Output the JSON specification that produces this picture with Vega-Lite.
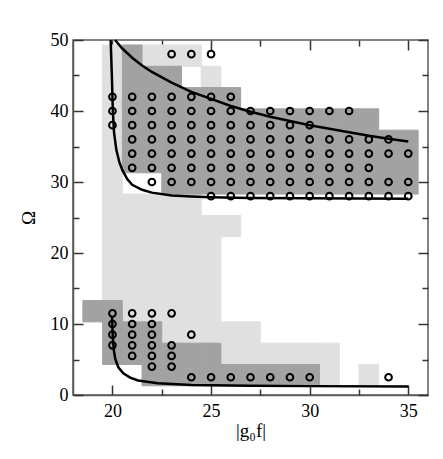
{
  "$schema": "https://vega.github.io/schema/vega-lite/v6.json",
  "width": 355,
  "height": 355,
  "autosize": "none",
  "padding": {"left": 73, "top": 40, "right": 15, "bottom": 64},
  "background": "white",
  "config": {
    "view": {"stroke": "#5a5a5a", "strokeWidth": 1.5},
    "axis": {
      "labelFont": "Liberation Serif",
      "titleFont": "Liberation Serif",
      "labelFontSize": 18,
      "titleFontSize": 19,
      "titleFontWeight": "normal",
      "labelColor": "black",
      "titleColor": "black",
      "domainColor": "#5a5a5a",
      "domainWidth": 1.5,
      "grid": false
    }
  },
  "datasets": {
    "cells": [
      {"g0": 19.5, "g1": 20.5, "lo": 13.3, "hi": 49.3, "shade": "light"},
      {"g0": 20.5, "g1": 21.5, "lo": 10.3, "hi": 28.3, "shade": "light"},
      {"g0": 21.5, "g1": 22.5, "lo": 10.3, "hi": 28.3, "shade": "light"},
      {"g0": 21.5, "g1": 22.5, "lo": 46.3, "hi": 49.3, "shade": "light"},
      {"g0": 22.5, "g1": 23.5, "lo": 7.3, "hi": 28.3, "shade": "light"},
      {"g0": 22.5, "g1": 23.5, "lo": 46.3, "hi": 49.3, "shade": "light"},
      {"g0": 23.5, "g1": 24.5, "lo": 7.3, "hi": 28.3, "shade": "light"},
      {"g0": 23.5, "g1": 24.5, "lo": 46.3, "hi": 49.3, "shade": "light"},
      {"g0": 24.5, "g1": 25.5, "lo": 7.3, "hi": 25.3, "shade": "light"},
      {"g0": 24.5, "g1": 25.5, "lo": 43.3, "hi": 46.3, "shade": "light"},
      {"g0": 25.5, "g1": 26.5, "lo": 22.3, "hi": 25.3, "shade": "light"},
      {"g0": 25.5, "g1": 26.5, "lo": 4.3, "hi": 10.3, "shade": "light"},
      {"g0": 26.5, "g1": 27.5, "lo": 4.3, "hi": 10.3, "shade": "light"},
      {"g0": 27.5, "g1": 28.5, "lo": 4.3, "hi": 7.3, "shade": "light"},
      {"g0": 28.5, "g1": 29.5, "lo": 4.3, "hi": 7.3, "shade": "light"},
      {"g0": 29.5, "g1": 30.5, "lo": 4.3, "hi": 7.3, "shade": "light"},
      {"g0": 30.5, "g1": 31.5, "lo": 1.3, "hi": 7.3, "shade": "light"},
      {"g0": 32.5, "g1": 33.5, "lo": 1.3, "hi": 4.3, "shade": "light"},
      {"g0": 18.5, "g1": 19.5, "lo": 10.3, "hi": 13.3, "shade": "dark"},
      {"g0": 19.5, "g1": 20.5, "lo": 4.3, "hi": 13.3, "shade": "dark"},
      {"g0": 20.5, "g1": 21.5, "lo": 4.3, "hi": 10.3, "shade": "dark"},
      {"g0": 20.5, "g1": 21.5, "lo": 31.3, "hi": 49.3, "shade": "dark"},
      {"g0": 21.5, "g1": 22.5, "lo": 1.3, "hi": 10.3, "shade": "dark"},
      {"g0": 21.5, "g1": 22.5, "lo": 31.3, "hi": 46.3, "shade": "dark"},
      {"g0": 22.5, "g1": 23.5, "lo": 1.3, "hi": 7.3, "shade": "dark"},
      {"g0": 22.5, "g1": 23.5, "lo": 28.3, "hi": 46.3, "shade": "dark"},
      {"g0": 23.5, "g1": 24.5, "lo": 1.3, "hi": 7.3, "shade": "dark"},
      {"g0": 23.5, "g1": 24.5, "lo": 28.3, "hi": 43.3, "shade": "dark"},
      {"g0": 24.5, "g1": 25.5, "lo": 1.3, "hi": 7.3, "shade": "dark"},
      {"g0": 24.5, "g1": 25.5, "lo": 28.3, "hi": 43.3, "shade": "dark"},
      {"g0": 25.5, "g1": 26.5, "lo": 1.3, "hi": 4.3, "shade": "dark"},
      {"g0": 25.5, "g1": 26.5, "lo": 28.3, "hi": 43.3, "shade": "dark"},
      {"g0": 26.5, "g1": 27.5, "lo": 1.3, "hi": 4.3, "shade": "dark"},
      {"g0": 26.5, "g1": 27.5, "lo": 28.3, "hi": 40.3, "shade": "dark"},
      {"g0": 27.5, "g1": 28.5, "lo": 1.3, "hi": 4.3, "shade": "dark"},
      {"g0": 27.5, "g1": 28.5, "lo": 28.3, "hi": 40.3, "shade": "dark"},
      {"g0": 28.5, "g1": 29.5, "lo": 1.3, "hi": 4.3, "shade": "dark"},
      {"g0": 28.5, "g1": 29.5, "lo": 28.3, "hi": 40.3, "shade": "dark"},
      {"g0": 29.5, "g1": 30.5, "lo": 1.3, "hi": 4.3, "shade": "dark"},
      {"g0": 29.5, "g1": 30.5, "lo": 28.3, "hi": 40.3, "shade": "dark"},
      {"g0": 30.5, "g1": 31.5, "lo": 28.3, "hi": 40.3, "shade": "dark"},
      {"g0": 31.5, "g1": 32.5, "lo": 28.3, "hi": 40.3, "shade": "dark"},
      {"g0": 32.5, "g1": 33.5, "lo": 28.3, "hi": 40.3, "shade": "dark"},
      {"g0": 33.5, "g1": 34.5, "lo": 28.3, "hi": 37.3, "shade": "dark"},
      {"g0": 34.5, "g1": 35.5, "lo": 28.3, "hi": 37.3, "shade": "dark"}
    ],
    "pts": [
      {"g": 23, "w": 48}, {"g": 24, "w": 48}, {"g": 25, "w": 48},
      {"g": 20, "w": 42}, {"g": 21, "w": 42}, {"g": 22, "w": 42}, {"g": 23, "w": 42}, {"g": 24, "w": 42}, {"g": 25, "w": 42}, {"g": 26, "w": 42},
      {"g": 20, "w": 40}, {"g": 21, "w": 40}, {"g": 22, "w": 40}, {"g": 23, "w": 40}, {"g": 24, "w": 40}, {"g": 25, "w": 40}, {"g": 26, "w": 40}, {"g": 27, "w": 40}, {"g": 28, "w": 40}, {"g": 29, "w": 40}, {"g": 30, "w": 40}, {"g": 31, "w": 40}, {"g": 32, "w": 40},
      {"g": 20, "w": 38}, {"g": 21, "w": 38}, {"g": 22, "w": 38}, {"g": 23, "w": 38}, {"g": 24, "w": 38}, {"g": 25, "w": 38}, {"g": 26, "w": 38}, {"g": 27, "w": 38}, {"g": 28, "w": 38}, {"g": 29, "w": 38}, {"g": 30, "w": 38},
      {"g": 21, "w": 36}, {"g": 22, "w": 36}, {"g": 23, "w": 36}, {"g": 24, "w": 36}, {"g": 25, "w": 36}, {"g": 26, "w": 36}, {"g": 27, "w": 36}, {"g": 28, "w": 36}, {"g": 29, "w": 36}, {"g": 30, "w": 36}, {"g": 31, "w": 36}, {"g": 32, "w": 36}, {"g": 33, "w": 36}, {"g": 34, "w": 36},
      {"g": 21, "w": 34}, {"g": 22, "w": 34}, {"g": 23, "w": 34}, {"g": 24, "w": 34}, {"g": 25, "w": 34}, {"g": 26, "w": 34}, {"g": 27, "w": 34}, {"g": 28, "w": 34}, {"g": 29, "w": 34}, {"g": 30, "w": 34}, {"g": 31, "w": 34}, {"g": 32, "w": 34}, {"g": 33, "w": 34}, {"g": 34, "w": 34}, {"g": 35, "w": 34},
      {"g": 21, "w": 32}, {"g": 22, "w": 32}, {"g": 23, "w": 32}, {"g": 24, "w": 32}, {"g": 25, "w": 32}, {"g": 26, "w": 32}, {"g": 27, "w": 32}, {"g": 28, "w": 32}, {"g": 29, "w": 32}, {"g": 30, "w": 32}, {"g": 31, "w": 32}, {"g": 32, "w": 32}, {"g": 33, "w": 32},
      {"g": 22, "w": 30}, {"g": 23, "w": 30}, {"g": 24, "w": 30}, {"g": 25, "w": 30}, {"g": 26, "w": 30}, {"g": 27, "w": 30}, {"g": 28, "w": 30}, {"g": 29, "w": 30}, {"g": 30, "w": 30}, {"g": 31, "w": 30}, {"g": 32, "w": 30}, {"g": 33, "w": 30}, {"g": 34, "w": 30}, {"g": 35, "w": 30},
      {"g": 25, "w": 28}, {"g": 26, "w": 28}, {"g": 27, "w": 28}, {"g": 28, "w": 28}, {"g": 29, "w": 28}, {"g": 30, "w": 28}, {"g": 31, "w": 28}, {"g": 32, "w": 28}, {"g": 33, "w": 28}, {"g": 34, "w": 28}, {"g": 35, "w": 28},
      {"g": 20, "w": 11.5}, {"g": 21, "w": 11.5}, {"g": 22, "w": 11.5}, {"g": 23, "w": 11.5},
      {"g": 20, "w": 10}, {"g": 21, "w": 10}, {"g": 22, "w": 10},
      {"g": 20, "w": 8.5}, {"g": 21, "w": 8.5}, {"g": 22, "w": 8.5}, {"g": 24, "w": 8.5},
      {"g": 20, "w": 7}, {"g": 21, "w": 7}, {"g": 22, "w": 7}, {"g": 23, "w": 7},
      {"g": 21, "w": 5.5}, {"g": 22, "w": 5.5}, {"g": 23, "w": 5.5},
      {"g": 22, "w": 4}, {"g": 23, "w": 4},
      {"g": 24, "w": 2.5}, {"g": 25, "w": 2.5}, {"g": 26, "w": 2.5}, {"g": 27, "w": 2.5}, {"g": 28, "w": 2.5}, {"g": 29, "w": 2.5}, {"g": 30, "w": 2.5}, {"g": 34, "w": 2.5}
    ],
    "curves": [
      {"c": "A", "g": 20.13, "w": 50}, {"c": "A", "g": 20.5, "w": 48.8}, {"c": "A", "g": 21, "w": 47.5}, {"c": "A", "g": 21.5, "w": 46.4}, {"c": "A", "g": 22, "w": 45.5}, {"c": "A", "g": 23, "w": 44.0}, {"c": "A", "g": 24, "w": 42.7}, {"c": "A", "g": 25, "w": 41.7}, {"c": "A", "g": 26, "w": 40.7}, {"c": "A", "g": 27, "w": 39.9}, {"c": "A", "g": 28, "w": 39.2}, {"c": "A", "g": 29, "w": 38.6}, {"c": "A", "g": 30, "w": 38.0}, {"c": "A", "g": 31, "w": 37.5}, {"c": "A", "g": 32, "w": 37.0}, {"c": "A", "g": 33, "w": 36.5}, {"c": "A", "g": 34, "w": 36.1}, {"c": "A", "g": 35, "w": 35.7},
      {"c": "B", "g": 19.91, "w": 50}, {"c": "B", "g": 19.97, "w": 45}, {"c": "B", "g": 20.02, "w": 40}, {"c": "B", "g": 20.08, "w": 37}, {"c": "B", "g": 20.2, "w": 34.5}, {"c": "B", "g": 20.35, "w": 32.8}, {"c": "B", "g": 20.5, "w": 31.7}, {"c": "B", "g": 20.75, "w": 30.4}, {"c": "B", "g": 21, "w": 29.6}, {"c": "B", "g": 21.5, "w": 28.9}, {"c": "B", "g": 22, "w": 28.5}, {"c": "B", "g": 23, "w": 28.1}, {"c": "B", "g": 24, "w": 27.95}, {"c": "B", "g": 25, "w": 27.85}, {"c": "B", "g": 27, "w": 27.75}, {"c": "B", "g": 30, "w": 27.7}, {"c": "B", "g": 35, "w": 27.65},
      {"c": "C", "g": 19.98, "w": 11}, {"c": "C", "g": 20.02, "w": 8}, {"c": "C", "g": 20.07, "w": 6.3}, {"c": "C", "g": 20.15, "w": 5.0}, {"c": "C", "g": 20.3, "w": 3.9}, {"c": "C", "g": 20.55, "w": 3.05}, {"c": "C", "g": 20.9, "w": 2.45}, {"c": "C", "g": 21.3, "w": 2.05}, {"c": "C", "g": 22.3, "w": 1.65}, {"c": "C", "g": 24, "w": 1.42}, {"c": "C", "g": 27, "w": 1.3}, {"c": "C", "g": 30, "w": 1.25}, {"c": "C", "g": 35, "w": 1.2}
    ]
  },
  "layer": [
    {
      "data": {"name": "cells"},
      "mark": {"type": "rect", "strokeWidth": 1},
      "encoding": {
        "x": {
          "field": "g0", "type": "quantitative",
          "scale": {"domain": [18, 36], "nice": false, "zero": false},
          "axis": {"orient": "bottom", "title": "|g₀f|", "values": [20, 25, 30, 35], "tickSize": -10, "tickColor": "#333333", "tickWidth": 1.5, "tickOpacity": 1, "labelPadding": 17, "titlePadding": 1}
        },
        "x2": {"field": "g1"},
        "y": {
          "field": "lo", "type": "quantitative",
          "scale": {"domain": [0, 50], "nice": false},
          "axis": {"orient": "left", "title": "Ω", "values": [0, 10, 20, 30, 40, 50], "tickSize": -10, "tickColor": "#333333", "tickWidth": 1.5, "tickOpacity": 1, "labelPadding": 15, "titlePadding": 12}
        },
        "y2": {"field": "hi"},
        "fill": {"field": "shade", "type": "nominal", "scale": {"domain": ["light", "dark"], "range": ["#e0e0e0", "#a2a2a2"]}, "legend": null},
        "stroke": {"field": "shade", "type": "nominal", "scale": {"domain": ["light", "dark"], "range": ["#e0e0e0", "#a2a2a2"]}, "legend": null}
      }
    },
    {
      "data": {"name": "curves"},
      "mark": {"type": "line", "color": "black", "strokeWidth": 2.5},
      "encoding": {
        "x": {
          "field": "g", "type": "quantitative",
          "scale": {"domain": [18, 36], "nice": false, "zero": false},
          "axis": {"orient": "bottom", "title": null, "labels": false, "domain": false, "values": [22.5, 27.5, 32.5], "tickSize": -6, "tickColor": "#333333", "tickWidth": 1.5, "tickOpacity": 1}
        },
        "y": {
          "field": "w", "type": "quantitative",
          "scale": {"domain": [0, 50], "nice": false},
          "axis": {"orient": "left", "title": null, "labels": false, "domain": false, "values": [5, 15, 25, 35, 45], "tickSize": -6, "tickColor": "#333333", "tickWidth": 1.5, "tickOpacity": 1}
        },
        "detail": {"field": "c", "type": "nominal"}
      }
    },
    {
      "data": {"name": "pts"},
      "mark": {"type": "point", "shape": "circle", "filled": false, "stroke": "black", "strokeWidth": 2, "size": 45, "opacity": 1},
      "encoding": {
        "x": {
          "field": "g", "type": "quantitative",
          "scale": {"domain": [18, 36], "nice": false, "zero": false},
          "axis": {"orient": "top", "title": null, "labels": false, "domain": false, "values": [20, 25, 30, 35], "tickSize": 10, "offset": -10, "tickColor": "#333333", "tickWidth": 1.5, "tickOpacity": 1}
        },
        "y": {
          "field": "w", "type": "quantitative",
          "scale": {"domain": [0, 50], "nice": false},
          "axis": {"orient": "right", "title": null, "labels": false, "domain": false, "values": [0, 10, 20, 30, 40, 50], "tickSize": 10, "offset": -10, "tickColor": "#333333", "tickWidth": 1.5, "tickOpacity": 1}
        }
      }
    },
    {
      "data": {"name": "pts"},
      "mark": {"type": "point", "shape": "circle", "opacity": 0},
      "encoding": {
        "x": {
          "field": "g", "type": "quantitative",
          "scale": {"domain": [18, 36], "nice": false, "zero": false},
          "axis": {"orient": "top", "title": null, "labels": false, "domain": false, "values": [22.5, 27.5, 32.5], "tickSize": 6, "offset": -6, "tickColor": "#333333", "tickWidth": 1.5, "tickOpacity": 1}
        },
        "y": {
          "field": "w", "type": "quantitative",
          "scale": {"domain": [0, 50], "nice": false},
          "axis": {"orient": "right", "title": null, "labels": false, "domain": false, "values": [5, 15, 25, 35, 45], "tickSize": 6, "offset": -6, "tickColor": "#333333", "tickWidth": 1.5, "tickOpacity": 1}
        }
      }
    }
  ],
  "resolve": {"axis": {"x": "independent", "y": "independent"}}
}
